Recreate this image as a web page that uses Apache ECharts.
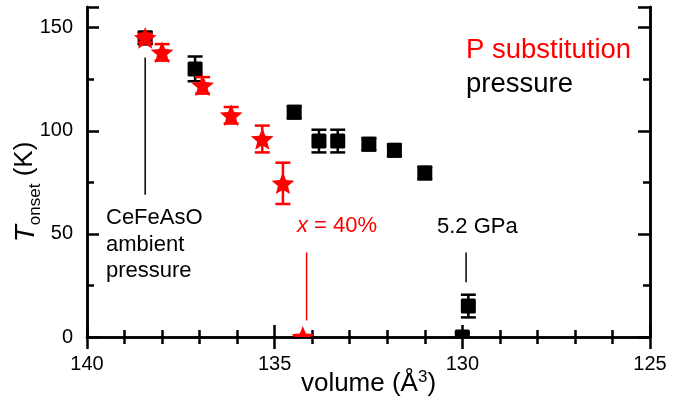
<!DOCTYPE html>
<html>
<head>
<meta charset="utf-8">
<script src="https://cdn.jsdelivr.net/npm/echarts@6/dist/echarts.min.js"></script>
<style>
  html, body { margin: 0; padding: 0; background: #fff; }
  #chart { width: 695px; height: 407px; }
</style>
</head>
<body>
<div id="chart"></div>
<script>
// pressure series: [volume (Å^3), T_onset (K), error (K)]
const pressureVolume = [138.45, 137.12, 134.48, 133.82, 133.32, 132.49, 131.81, 131.0, 129.84, 130.0];
const pressureT = [145, 130, 109, 95, 95, 93.5, 90.5, 79.5, 15, 0];
const pressureErr = [3, 6, 3, 5.5, 5.5, 3, 3, 3, 5.5, 2];

// P substitution series
const substVolume = [138.45, 138.0, 136.92, 136.16, 135.33, 134.78, 134.25];
const substT = [145, 138, 122, 107.5, 96, 74.5, 0];
const substErr = [2, 4, 4, 4, 6.5, 10, 1];

// guide lines: [volume, T from, T to]
const blackGuides = [[138.45, 135.5, 69], [129.9, 41, 26.5]];
const redGuides = [[134.15, 41, 8]];

const xTicks = [125, 130, 135, 140];
const yTicks = [0, 50, 100, 150];

const FONT = "'Liberation Sans', Arial, sans-serif";
const RED = "#ff0000";

const zip = (xs, ys, es) => xs.map((x, i) => [x, ys[i], es[i]]);

function errorBar(api, color, half) {
  const x = api.value(0), y = api.value(1), e = api.value(2);
  const hi = api.coord([x, y + e]);
  const lo = api.coord([x, y - e]);
  const style = { stroke: color, lineWidth: 2.5 };
  return [
    { type: "line", shape: { x1: hi[0], y1: hi[1], x2: lo[0], y2: lo[1] }, style },
    { type: "line", shape: { x1: hi[0] - half, y1: hi[1], x2: hi[0] + half, y2: hi[1] }, style },
    { type: "line", shape: { x1: lo[0] - half, y1: lo[1], x2: lo[0] + half, y2: lo[1] }, style }
  ];
}

function renderSquare(params, api) {
  const p = api.coord([api.value(0), api.value(1)]);
  const s = 15;
  return {
    type: "group",
    children: [
      ...errorBar(api, "#000", 7.5),
      { type: "rect", shape: { x: p[0] - s / 2, y: p[1] - s / 2, width: s, height: s, r: 1.5 }, style: { fill: "#000" } }
    ]
  };
}

function renderStar(params, api) {
  const p = api.coord([api.value(0), api.value(1)]);
  const R = 12, r = 5.3;
  const points = [];
  for (let k = 0; k < 10; k++) {
    const rad = k % 2 === 0 ? R : r;
    const a = -Math.PI / 2 + k * Math.PI / 5;
    points.push([p[0] + rad * Math.cos(a), p[1] + rad * Math.sin(a) + 1]);
  }
  return {
    type: "group",
    children: [
      ...errorBar(api, RED, 7.5),
      { type: "polygon", shape: { points }, style: { fill: RED } }
    ]
  };
}

function guideRenderer(color) {
  return (params, api) => {
    const a = api.coord([api.value(0), api.value(1)]);
    const b = api.coord([api.value(0), api.value(2)]);
    return { type: "line", shape: { x1: a[0], y1: a[1], x2: b[0], y2: b[1] }, style: { stroke: color, lineWidth: 1.5 } };
  };
}

const xBase = {
  type: "value", min: 125, max: 140, interval: 5, inverse: true,
  axisLine: { lineStyle: { color: "#000", width: 2.5 } },
  axisTick: { inside: true, length: 12, lineStyle: { color: "#000", width: 2.5 } },
  minorTick: { show: true, splitNumber: 5, length: 7, lineStyle: { color: "#000", width: 2.5 } },
  splitLine: { show: false },
  minorSplitLine: { show: false }
};

const yBase = (interval, tickLen, position, labels) => ({
  type: "value", min: 0, max: 160, interval, position,
  axisLine: { show: true, lineStyle: { color: "#000", width: 2.5 } },
  axisTick: { show: true, inside: true, length: tickLen, lineStyle: { color: "#000", width: 2.5 } },
  axisLabel: labels
    ? { show: true, fontFamily: FONT, fontSize: 20, color: "#000", margin: 14,
        formatter: v => yTicks.includes(v) ? String(v) : "" }
    : { show: false },
  splitLine: { show: false }
});

const chart = echarts.init(document.getElementById("chart"));
chart.setOption({
  animation: false,
  grid: { left: 87, right: 45, top: 7, bottom: 70, containLabel: false, outerBoundsMode: "none" },
  xAxis: [
    {
      ...xBase, position: "bottom",
      axisLabel: { fontFamily: FONT, fontSize: 20, color: "#000", margin: 17,
        formatter: v => xTicks.includes(v) ? String(v) : "" },
      name: "volume (Å{sup|3})",
      nameLocation: "middle",
      nameGap: 32,
      nameMoveOverlap: false,
      nameTextStyle: {
        fontFamily: FONT, fontSize: 26, color: "#000", verticalAlign: "top",
        rich: { sup: { fontFamily: FONT, fontSize: 17, color: "#000", verticalAlign: "top", padding: [0, 0, 12, 0] } }
      }
    },
    { ...xBase, position: "top", axisLabel: { show: false } }
  ],
  yAxis: [
    yBase(50, 12, "left", true),
    yBase(25, 7, "left", false),
    yBase(50, 12, "right", false),
    yBase(25, 7, "right", false)
  ],
  series: [
    { type: "custom", clip: true, renderItem: guideRenderer("#000"), data: blackGuides, z: 1 },
    { type: "custom", clip: true, renderItem: guideRenderer(RED), data: redGuides, z: 1 },
    { type: "custom", clip: true, renderItem: renderSquare, data: zip(pressureVolume, pressureT, pressureErr), z: 2 },
    { type: "custom", clip: true, renderItem: renderStar, data: zip(substVolume, substT, substErr), z: 3 }
  ],
  graphic: [
    {
      type: "text", x: 28, y: 192, rotation: Math.PI / 2,
      style: {
        text: "{t|T}{s|onset}{k| (K)}", align: "center", verticalAlign: "middle",
        rich: {
          t: { fontFamily: FONT, fontStyle: "italic", fontSize: 28, fill: "#000", lineHeight: 32, verticalAlign: "top" },
          s: { fontFamily: FONT, fontSize: 17, fill: "#000", lineHeight: 17, verticalAlign: "bottom", padding: [14, 0, 0, 0] },
          k: { fontFamily: FONT, fontSize: 26, fill: "#000", lineHeight: 32, verticalAlign: "top" }
        }
      }
    },
    { type: "text", x: 466, y: 50, style: { text: "P substitution", fontFamily: FONT, fontSize: 27.5, fill: RED, verticalAlign: "middle" } },
    { type: "text", x: 466, y: 84, style: { text: "pressure", fontFamily: FONT, fontSize: 27.5, fill: "#000", verticalAlign: "middle" } },
    { type: "text", x: 106, y: 218, style: { text: "CeFeAsO", fontFamily: FONT, fontSize: 22, fill: "#000", verticalAlign: "middle" } },
    { type: "text", x: 106, y: 245, style: { text: "ambient", fontFamily: FONT, fontSize: 22, fill: "#000", verticalAlign: "middle" } },
    { type: "text", x: 106, y: 271, style: { text: "pressure", fontFamily: FONT, fontSize: 22, fill: "#000", verticalAlign: "middle" } },
    {
      type: "text", x: 297, y: 226,
      style: {
        text: "{i|x} = 40%", fontFamily: FONT, fontSize: 22, fill: RED, verticalAlign: "middle",
        rich: { i: { fontFamily: FONT, fontStyle: "italic", fontSize: 22, fill: RED } }
      }
    },
    { type: "text", x: 437, y: 227, style: { text: "5.2 GPa", fontFamily: FONT, fontSize: 22, fill: "#000", verticalAlign: "middle" } }
  ]
});
</script>
</body>
</html>
